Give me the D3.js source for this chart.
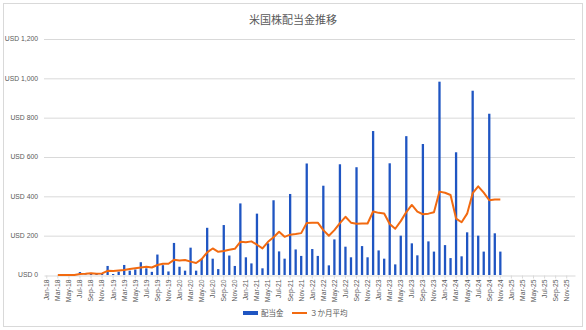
<!DOCTYPE html>
<html><head><meta charset="utf-8">
<script src="https://cdn.jsdelivr.net/npm/d3@7"></script>
<style>
html,body{margin:0;padding:0;background:#fff;}
svg{display:block;}
</style></head>
<body>
<script>
const title = "米国株配当金推移";
const months = [
"Jan-18","Feb-18","Mar-18","Apr-18","May-18","Jun-18","Jul-18","Aug-18","Sep-18","Oct-18","Nov-18","Dec-18",
"Jan-19","Feb-19","Mar-19","Apr-19","May-19","Jun-19","Jul-19","Aug-19","Sep-19","Oct-19","Nov-19","Dec-19",
"Jan-20","Feb-20","Mar-20","Apr-20","May-20","Jun-20","Jul-20","Aug-20","Sep-20","Oct-20","Nov-20","Dec-20",
"Jan-21","Feb-21","Mar-21","Apr-21","May-21","Jun-21","Jul-21","Aug-21","Sep-21","Oct-21","Nov-21","Dec-21",
"Jan-22","Feb-22","Mar-22","Apr-22","May-22","Jun-22","Jul-22","Aug-22","Sep-22","Oct-22","Nov-22","Dec-22",
"Jan-23","Feb-23","Mar-23","Apr-23","May-23","Jun-23","Jul-23","Aug-23","Sep-23","Oct-23","Nov-23","Dec-23",
"Jan-24","Feb-24","Mar-24","Apr-24","May-24","Jun-24","Jul-24","Aug-24","Sep-24","Oct-24","Nov-24","Dec-24",
"Jan-25","Feb-25","Mar-25","Apr-25","May-25","Jun-25","Jul-25","Aug-25","Sep-25","Oct-25","Nov-25","Dec-25"];
// 配当金 (Jan-18 .. Nov-24)
const dividends = [
0,0,0,0,0,0,15,3,8,8,8,46,
5,17,51,22,28,65,34,16,104,50,18,163,
42,22,139,22,82,240,83,30,254,99,46,364,
90,59,312,34,161,380,120,83,412,130,97,567,
132,97,454,49,181,563,144,90,548,147,90,732,
125,83,568,54,200,706,161,100,666,171,119,983,
152,86,624,95,217,937,200,119,820,212,119];
// ３か月平均 (Mar-18 .. Nov-24)
const avgStart = 2;
const avg3 = [
0,0,0,0,5,6,9,6,8,21,
20,23,25,30,34,38,42,38,51,57,57,77,
74,76,68,61,81,115,135,118,122,128,133,169,
167,171,154,135,169,192,220,194,205,208,213,265,
266,266,228,200,228,264,296,266,261,262,262,323,
316,313,259,235,274,320,356,322,309,312,319,424,
418,407,287,268,312,416,451,419,380,384,384];
const yTicks = [0,200,400,600,800,1000,1200];
const seriesNames = ["配当金","３か月平均"];

const W = 586, H = 330;
const svg = d3.select("body").append("svg").attr("width", W).attr("height", H);
const txt = "#595959";
const axisFont = "'Liberation Sans', Arial, sans-serif";
const jpFont = "'Noto Sans CJK JP', sans-serif";

svg.append("rect").attr("x",3.5).attr("y",3.5).attr("width",W-7).attr("height",H-7)
  .attr("fill","#fff").attr("stroke","#d9d9d9");

svg.append("text").attr("x",293).attr("y",24).attr("text-anchor","middle")
  .attr("font-family",jpFont).attr("font-size",11).attr("fill",txt).text(title);

const x = d3.scaleBand().domain(months).range([44,575]).padding(0);
const y = d3.scaleLinear().domain([0,1200]).range([275,39]);

// gridlines
svg.append("g").selectAll("line").data(yTicks.filter(d=>d>0)).join("line")
  .attr("x1",44).attr("x2",575).attr("y1",d=>y(d)+0.5).attr("y2",d=>y(d)+0.5)
  .attr("stroke","#d9d9d9").attr("stroke-width",1);

// y labels
svg.append("g").selectAll("text").data(yTicks).join("text")
  .attr("x",38).attr("y",d=>y(d)).attr("dy","0.35em").attr("text-anchor","end")
  .attr("font-family",axisFont).attr("font-size",6.8).attr("fill",txt)
  .text(d=>"USD " + d3.format(",")(d));

// bars
const bw = 2.3;
svg.append("g").selectAll("rect").data(dividends).join("rect")
  .attr("x",(d,i)=>x(months[i]) + x.bandwidth()/2 - bw/2)
  .attr("y",d=>y(d)).attr("width",bw).attr("height",d=>y(0)-y(d))
  .attr("fill","#1f55c2");

// x axis
const xAxis = d3.axisBottom(x).tickValues(months.filter((m,i)=>i%2===0)).tickSize(3).tickSizeOuter(0);
const gx = svg.append("g").attr("transform","translate(0,275.5)").call(xAxis);
gx.select(".domain").attr("stroke","#d9d9d9");
gx.selectAll(".tick line").attr("stroke","#d9d9d9");
gx.selectAll(".tick text")
  .attr("font-family",axisFont).attr("font-size",6.8).attr("fill",txt)
  .attr("transform","rotate(-90)").attr("text-anchor","end")
  .attr("x",-4).attr("y",0).attr("dy","0.35em");

// line
const line = d3.line()
  .x((d,i)=>x(months[i+avgStart]) + x.bandwidth()/2)
  .y(d=>y(d));
svg.append("path").datum(avg3).attr("d",line).attr("fill","none")
  .attr("stroke","#f26a10").attr("stroke-width",2).attr("stroke-linejoin","round");

// legend
const lg = svg.append("g");
lg.append("rect").attr("x",243).attr("y",311).attr("width",15).attr("height",4).attr("fill","#1f55c2");
lg.append("text").attr("x",261).attr("y",313).attr("dy","0.35em").attr("font-family",jpFont)
  .attr("font-size",7.5).attr("fill",txt).text(seriesNames[0]);
lg.append("line").attr("x1",292).attr("x2",307).attr("y1",313).attr("y2",313)
  .attr("stroke","#f26a10").attr("stroke-width",2);
lg.append("text").attr("x",310).attr("y",313).attr("dy","0.35em").attr("font-family",jpFont)
  .attr("font-size",7.5).attr("fill",txt).text(seriesNames[1]);
</script>
</body></html>
